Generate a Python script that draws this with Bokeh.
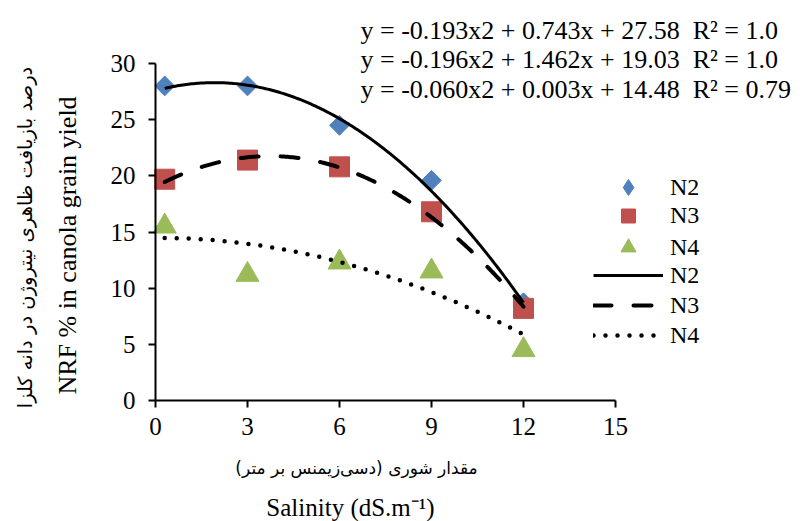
import numpy as np
from bokeh.plotting import figure
from bokeh.models import Range1d, FixedTicker, Label, Legend, LegendItem
from bokeh.embed import file_html
from bokeh.resources import INLINE

# ---- data ----
salinity = [0.3, 3, 6, 9, 12]
n2 = [28.0, 28.0, 24.5, 19.6, 8.7]
n3 = [19.7, 21.4, 20.8, 16.8, 8.2]
n4 = [15.5, 11.2, 12.3, 11.5, 4.5]

coef_n2 = [-0.193, 0.743, 27.58]
coef_n3 = [-0.196, 1.462, 19.03]
coef_n4 = [-0.060, 0.003, 14.48]

eq_texts = [
    "y = -0.193x2 + 0.743x + 27.58\u00a0\u00a0R² = 1.0",
    "y = -0.196x2 + 1.462x + 19.03\u00a0\u00a0R² = 1.0",
    "y = -0.060x2 + 0.003x + 14.48\u00a0\u00a0R² = 0.79",
]
series_names = ["N2", "N3", "N4"]
x_ticks = [0, 3, 6, 9, 12, 15]
y_ticks = [0, 5, 10, 15, 20, 25, 30]

SERIF = "Liberation Serif"
W, H = 803, 521
# plot area (axis box) in canvas pixels
AX_L, AX_R, AX_T, AX_B = 155, 615, 63, 400
XMIN, XMAX, YMIN, YMAX = 0, 15, 0, 30
kx = (AX_R - AX_L) / (XMAX - XMIN)
ky = (AX_B - AX_T) / (YMAX - YMIN)

p = figure(width=W, height=H, output_backend="svg", toolbar_location=None,
           x_range=Range1d(XMIN - AX_L / kx, XMAX + (W - AX_R) / kx),
           y_range=Range1d(YMIN - (H - AX_B) / ky, YMAX + AX_T / ky),
           min_border=0)
p.outline_line_color = None
p.background_fill_color = "white"
p.border_fill_color = "white"
p.xgrid.visible = False
p.ygrid.visible = False

for ax, ticks, bnds in ((p.xaxis, x_ticks, (XMIN, XMAX)), (p.yaxis, y_ticks, (YMIN, YMAX))):
    ax.ticker = FixedTicker(ticks=ticks)
    ax.bounds = bnds
    ax.fixed_location = 0
    ax.axis_line_width = 2
    ax.axis_line_color = "black"
    ax.major_tick_line_width = 2
    ax.major_tick_line_color = "black"
    ax.major_tick_in = 0
    ax.major_tick_out = 7
    ax.minor_tick_line_color = None
    ax.major_label_text_font = SERIF
    ax.major_label_text_font_size = "25px"
    ax.major_label_text_color = "black"
p.yaxis.major_label_standoff = 13
p.xaxis.major_label_standoff = 10

BLUE, RED, GREEN = "#4F81BD", "#C0504D", "#9BBB59"

# markers
r2 = p.scatter(salinity, n2, marker="square", angle=np.pi / 4, size=14,
               fill_color=BLUE, line_color=BLUE)
r3 = p.scatter(salinity, n3, marker="square", size=20,
               fill_color=RED, line_color=RED)
r4 = p.scatter(salinity, n4, marker="triangle", size=23,
               fill_color=GREEN, line_color=GREEN)
# legend-only key for N2 (diamond symbol in the legend)
r2_key = p.scatter([np.nan], [np.nan], marker="diamond", fill_color=BLUE, line_color=BLUE)

# trend lines
xs = np.linspace(min(salinity), max(salinity), 200)
l2 = p.line(xs, np.polyval(coef_n2, xs), line_color="black", line_width=3)
l3 = p.line(xs, np.polyval(coef_n3, xs), line_color="black", line_width=4,
            line_dash="18 22", line_cap="round")
l4 = p.line(xs, np.polyval(coef_n4, xs), line_color="black", line_width=4.5,
            line_dash="0 12", line_cap="round")


def make_legend(items, gh, loc):
    lg = Legend(items=items, location=loc, orientation="vertical",
                glyph_width=70, glyph_height=gh, label_height=gh,
                spacing=0, padding=0, margin=0, label_standoff=7,
                border_line_color=None, background_fill_alpha=0,
                label_text_font=SERIF, label_text_font_size="24px",
                label_text_color="black")
    p.add_layout(lg, "center")


make_legend([LegendItem(label=series_names[0], renderers=[r2_key])], 40, (593, 314))
make_legend([LegendItem(label=series_names[1], renderers=[r3])], 35, (593, 288))
make_legend([LegendItem(label=series_names[2], renderers=[r4])], 38, (593, 255))
make_legend([LegendItem(label=series_names[0], renderers=[l2]),
             LegendItem(label=series_names[1], renderers=[l3]),
             LegendItem(label=series_names[2], renderers=[l4])], 30, (593, 171))


def screen_label(x, y_from_top, text, font, size, align="left", angle=0.0):
    p.add_layout(Label(x=x, y=H - y_from_top, x_units="screen", y_units="screen",
                       angle=angle, text=text, text_font=font, text_font_size=size,
                       text_align=align, text_baseline="alphabetic",
                       text_color="black"))


# equations
for i, t in enumerate(eq_texts):
    screen_label(360, 30 + 29.3 * i, t, SERIF, "26px")

# axis titles
screen_label(67, 245, "NRF % in canola grain yield", SERIF, "26px", "center", np.pi / 2)
screen_label(25, 237, "درصد بازیافت ظاهری نیتروژن در دانه کلزا", "DejaVu Sans", "19.5px",
             "center", np.pi / 2)
screen_label(356, 467, "مقدار شوری (دسی‌زیمنس بر متر)", "DejaVu Sans", "17px", "center")
screen_label(350, 507, "Salinity (dS.m⁻¹)", SERIF, "25px", "center")

open("out.html", "w").write(file_html(p, INLINE))
